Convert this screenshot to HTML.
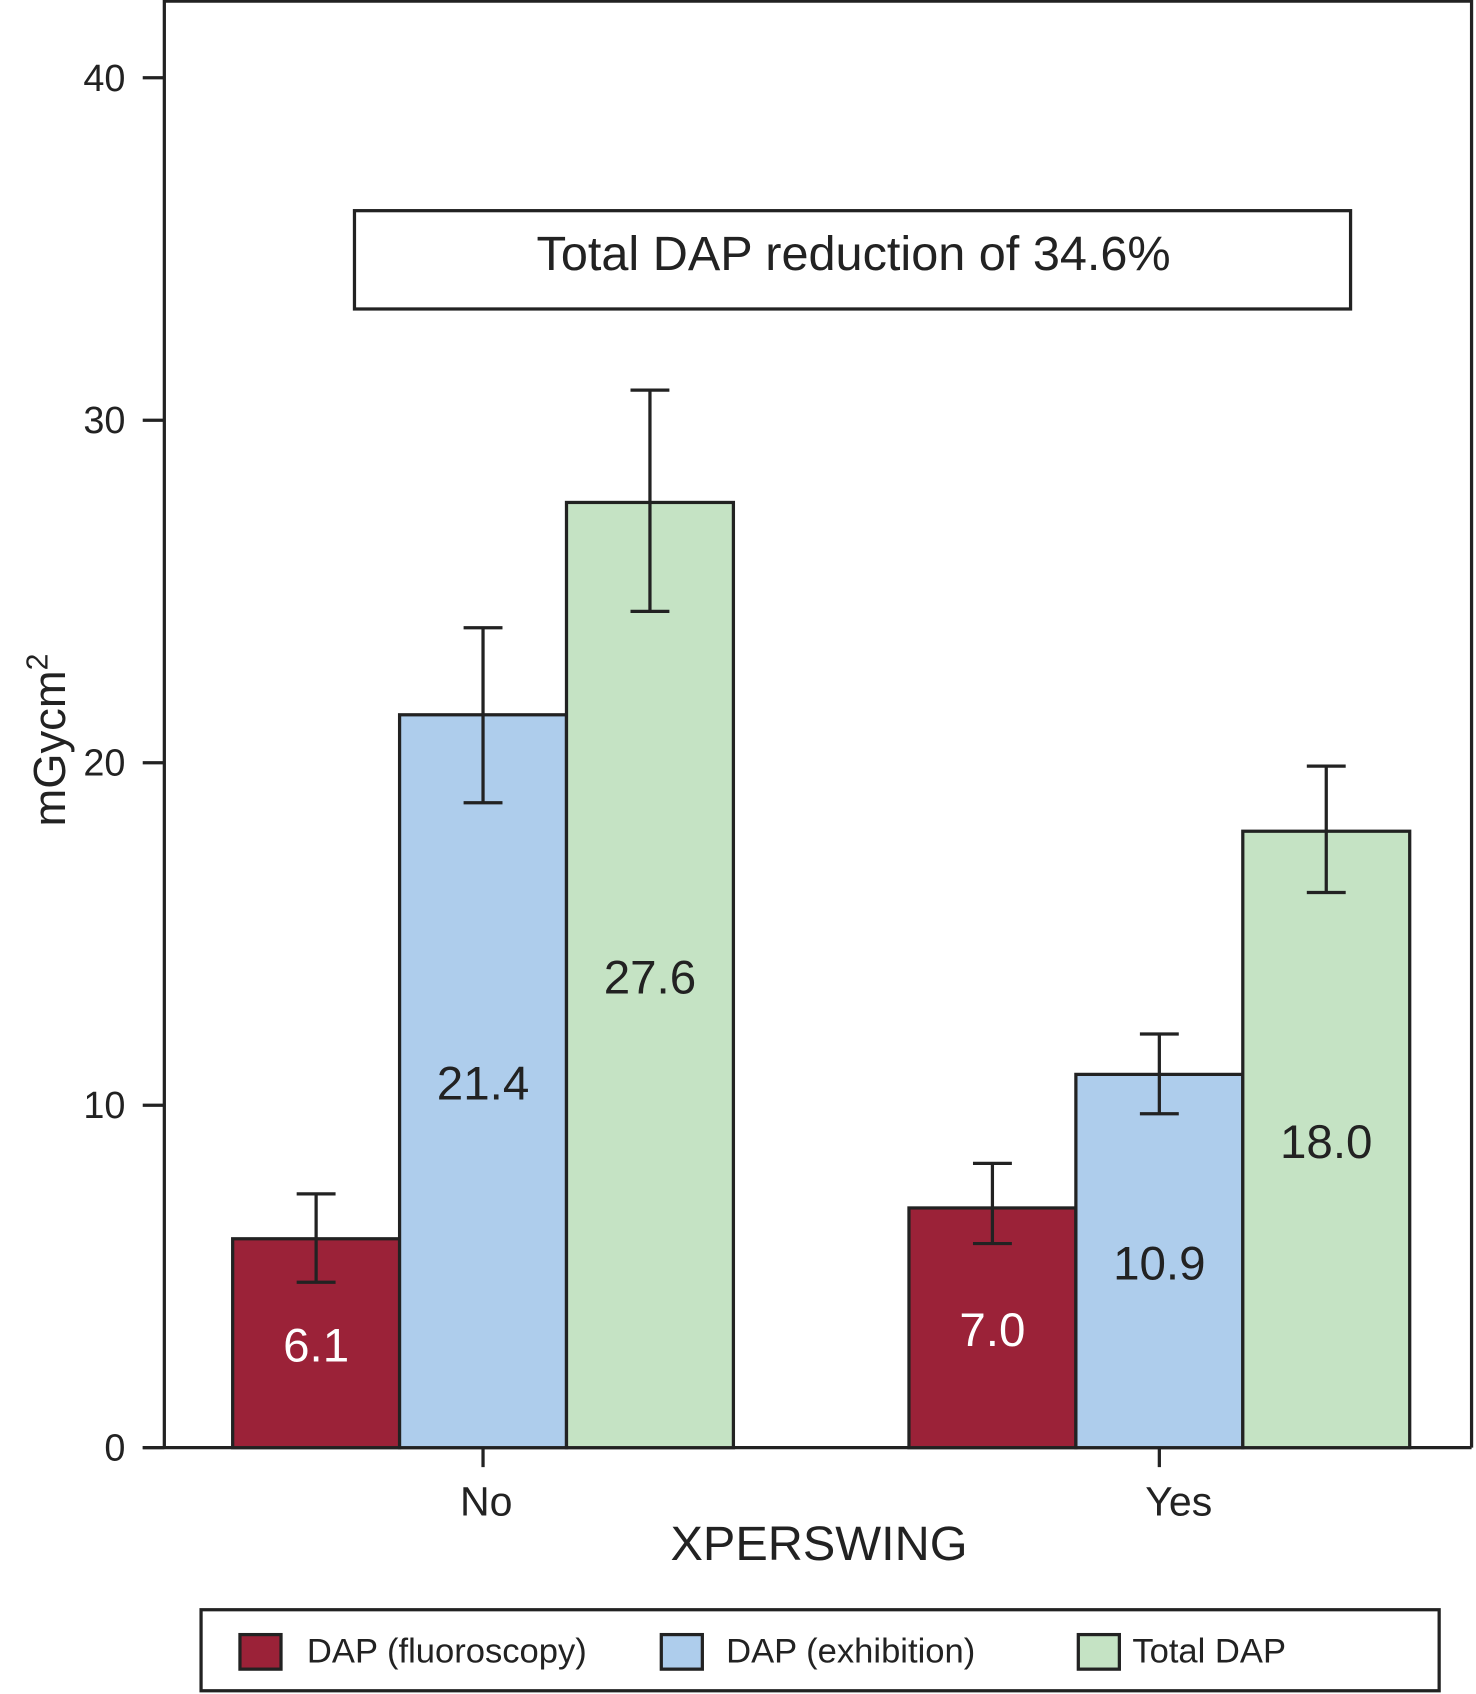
<!DOCTYPE html>
<html><head><meta charset="utf-8"><style>
html,body{margin:0;padding:0;background:#fff}
svg{display:block;font-family:"Liberation Sans",Arial,sans-serif}
</style></head><body>
<svg id="chart" width="1476" height="1694" viewBox="0 0 1366 1568">
<rect x="0" y="0" width="1366" height="1568" fill="#fff"/>
<g id="plot"></g>
</svg>
<script>
const categories = ["No", "Yes"];
const seriesNames = ["DAP (fluoroscopy)", "DAP (exhibition)", "Total DAP"];
const fluoroValues = [6.1, 7.0];
const exhibitionValues = [21.4, 10.9];
const totalValues = [27.6, 18.0];
const fluoroErrLow = [4.83, 5.96];
const fluoroErrHigh = [7.41, 8.30];
const exhibitionErrLow = [18.83, 9.75];
const exhibitionErrHigh = [23.94, 12.08];
const totalErrLow = [24.42, 16.21];
const totalErrHigh = [30.88, 19.9];
const yTicks = [0, 10, 20, 30, 40];

const NS = "http://www.w3.org/2000/svg";
const g = document.getElementById("plot");
function mk(tag, attrs, text){const e=document.createElementNS(NS,tag);for(const k in attrs)e.setAttribute(k,attrs[k]);if(text!==undefined)e.textContent=text;g.appendChild(e);return e;}
const y0 = 1340, pxPerUnit = 31.7;
function yScale(v){return y0 - v*pxPerUnit;}
const groupCenters = [447, 1073];
const barW = 154.5;
function xBar(gi, si){return groupCenters[gi] - 1.5*barW + si*barW;}

let e = mk("path",{d:"M152 1340 V1 H1362 V1340",fill:"none",stroke:"#222","stroke-width":3});


e = mk("line",{x1:132,y1:y0,x2:1362,y2:y0,stroke:"#222","stroke-width":3});



yTicks.forEach(t=>{
  const y=yScale(t);
  let l=mk("line",{x1:132,y1:y,x2:152,y2:y,stroke:"#222","stroke-width":3});
  
  
  let tx=mk("text",{x:116,y:y+12,"text-anchor":"end","font-size":35,fill:"#222"},String(t));
  
  
});

const colors=["#9b2238","#aecdec","#c5e3c4"];
const vals=[fluoroValues,exhibitionValues,totalValues];
const lows=[fluoroErrLow,exhibitionErrLow,totalErrLow];
const highs=[fluoroErrHigh,exhibitionErrHigh,totalErrHigh];
const labelColors=["#fff","#222","#222"];

categories.forEach((c,gi)=>{
  vals.forEach((arr,si)=>{
    const v=arr[gi], x=xBar(gi,si), y=yScale(v);
    let r=mk("rect",{x:x,y:y,width:barW,height:y0-y,fill:colors[si],stroke:"#222","stroke-width":3});
    
    
    const cx=x+barW/2, yl=yScale(lows[si][gi]), yh=yScale(highs[si][gi]);
    let eb=mk("path",{d:`M${cx} ${yl} V${yh} M${cx-18} ${yh} H${cx+18} M${cx-18} ${yl} H${cx+18}`,stroke:"#222","stroke-width":3,fill:"none"});
    
    
    let lb=mk("text",{x:cx,y:(y+y0)/2+17,"text-anchor":"middle","font-size":44,fill:labelColors[si]},v.toFixed(1));
    
    
  });
  const gc=groupCenters[gi];
  let t=mk("line",{x1:gc,y1:y0,x2:gc,y2:y0+18,stroke:"#222","stroke-width":3});
  
  
  let tl=mk("text",{x:gc+(gi?18:3),y:1403,"text-anchor":"middle","font-size":38,fill:"#222"},c);
  
  
});

e=mk("text",{x:758,y:1444,"text-anchor":"middle","font-size":45,fill:"#222"},"XPERSWING");


e=mk("text",{x:0,y:0,"text-anchor":"middle","font-size":42,fill:"#222",transform:"translate(60,685) rotate(-90)"},"mGycm");


const sup=document.createElementNS(NS,"tspan");sup.setAttribute("dy","-16");sup.setAttribute("font-size","28");sup.textContent="2";e.appendChild(sup);

e=mk("rect",{x:328,y:195,width:922,height:91,fill:"#fff",stroke:"#222","stroke-width":3});


e=mk("text",{x:790,y:250,"text-anchor":"middle","font-size":45,fill:"#222"},"Total DAP reduction of 34.6%");



e=mk("rect",{x:186,y:1490,width:1146,height:75,fill:"#fff",stroke:"#222","stroke-width":3});


const legX=[222,612,998];
const legTextX=[284,672,1048];
seriesNames.forEach((n,i)=>{
  let s=mk("rect",{x:legX[i],y:1513,width:38,height:32,fill:colors[i],stroke:"#222","stroke-width":3});
  
  
  let t=mk("text",{x:legTextX[i],y:1539,"font-size":32,fill:"#222"},n);
  
  
});
</script>
</body></html>
